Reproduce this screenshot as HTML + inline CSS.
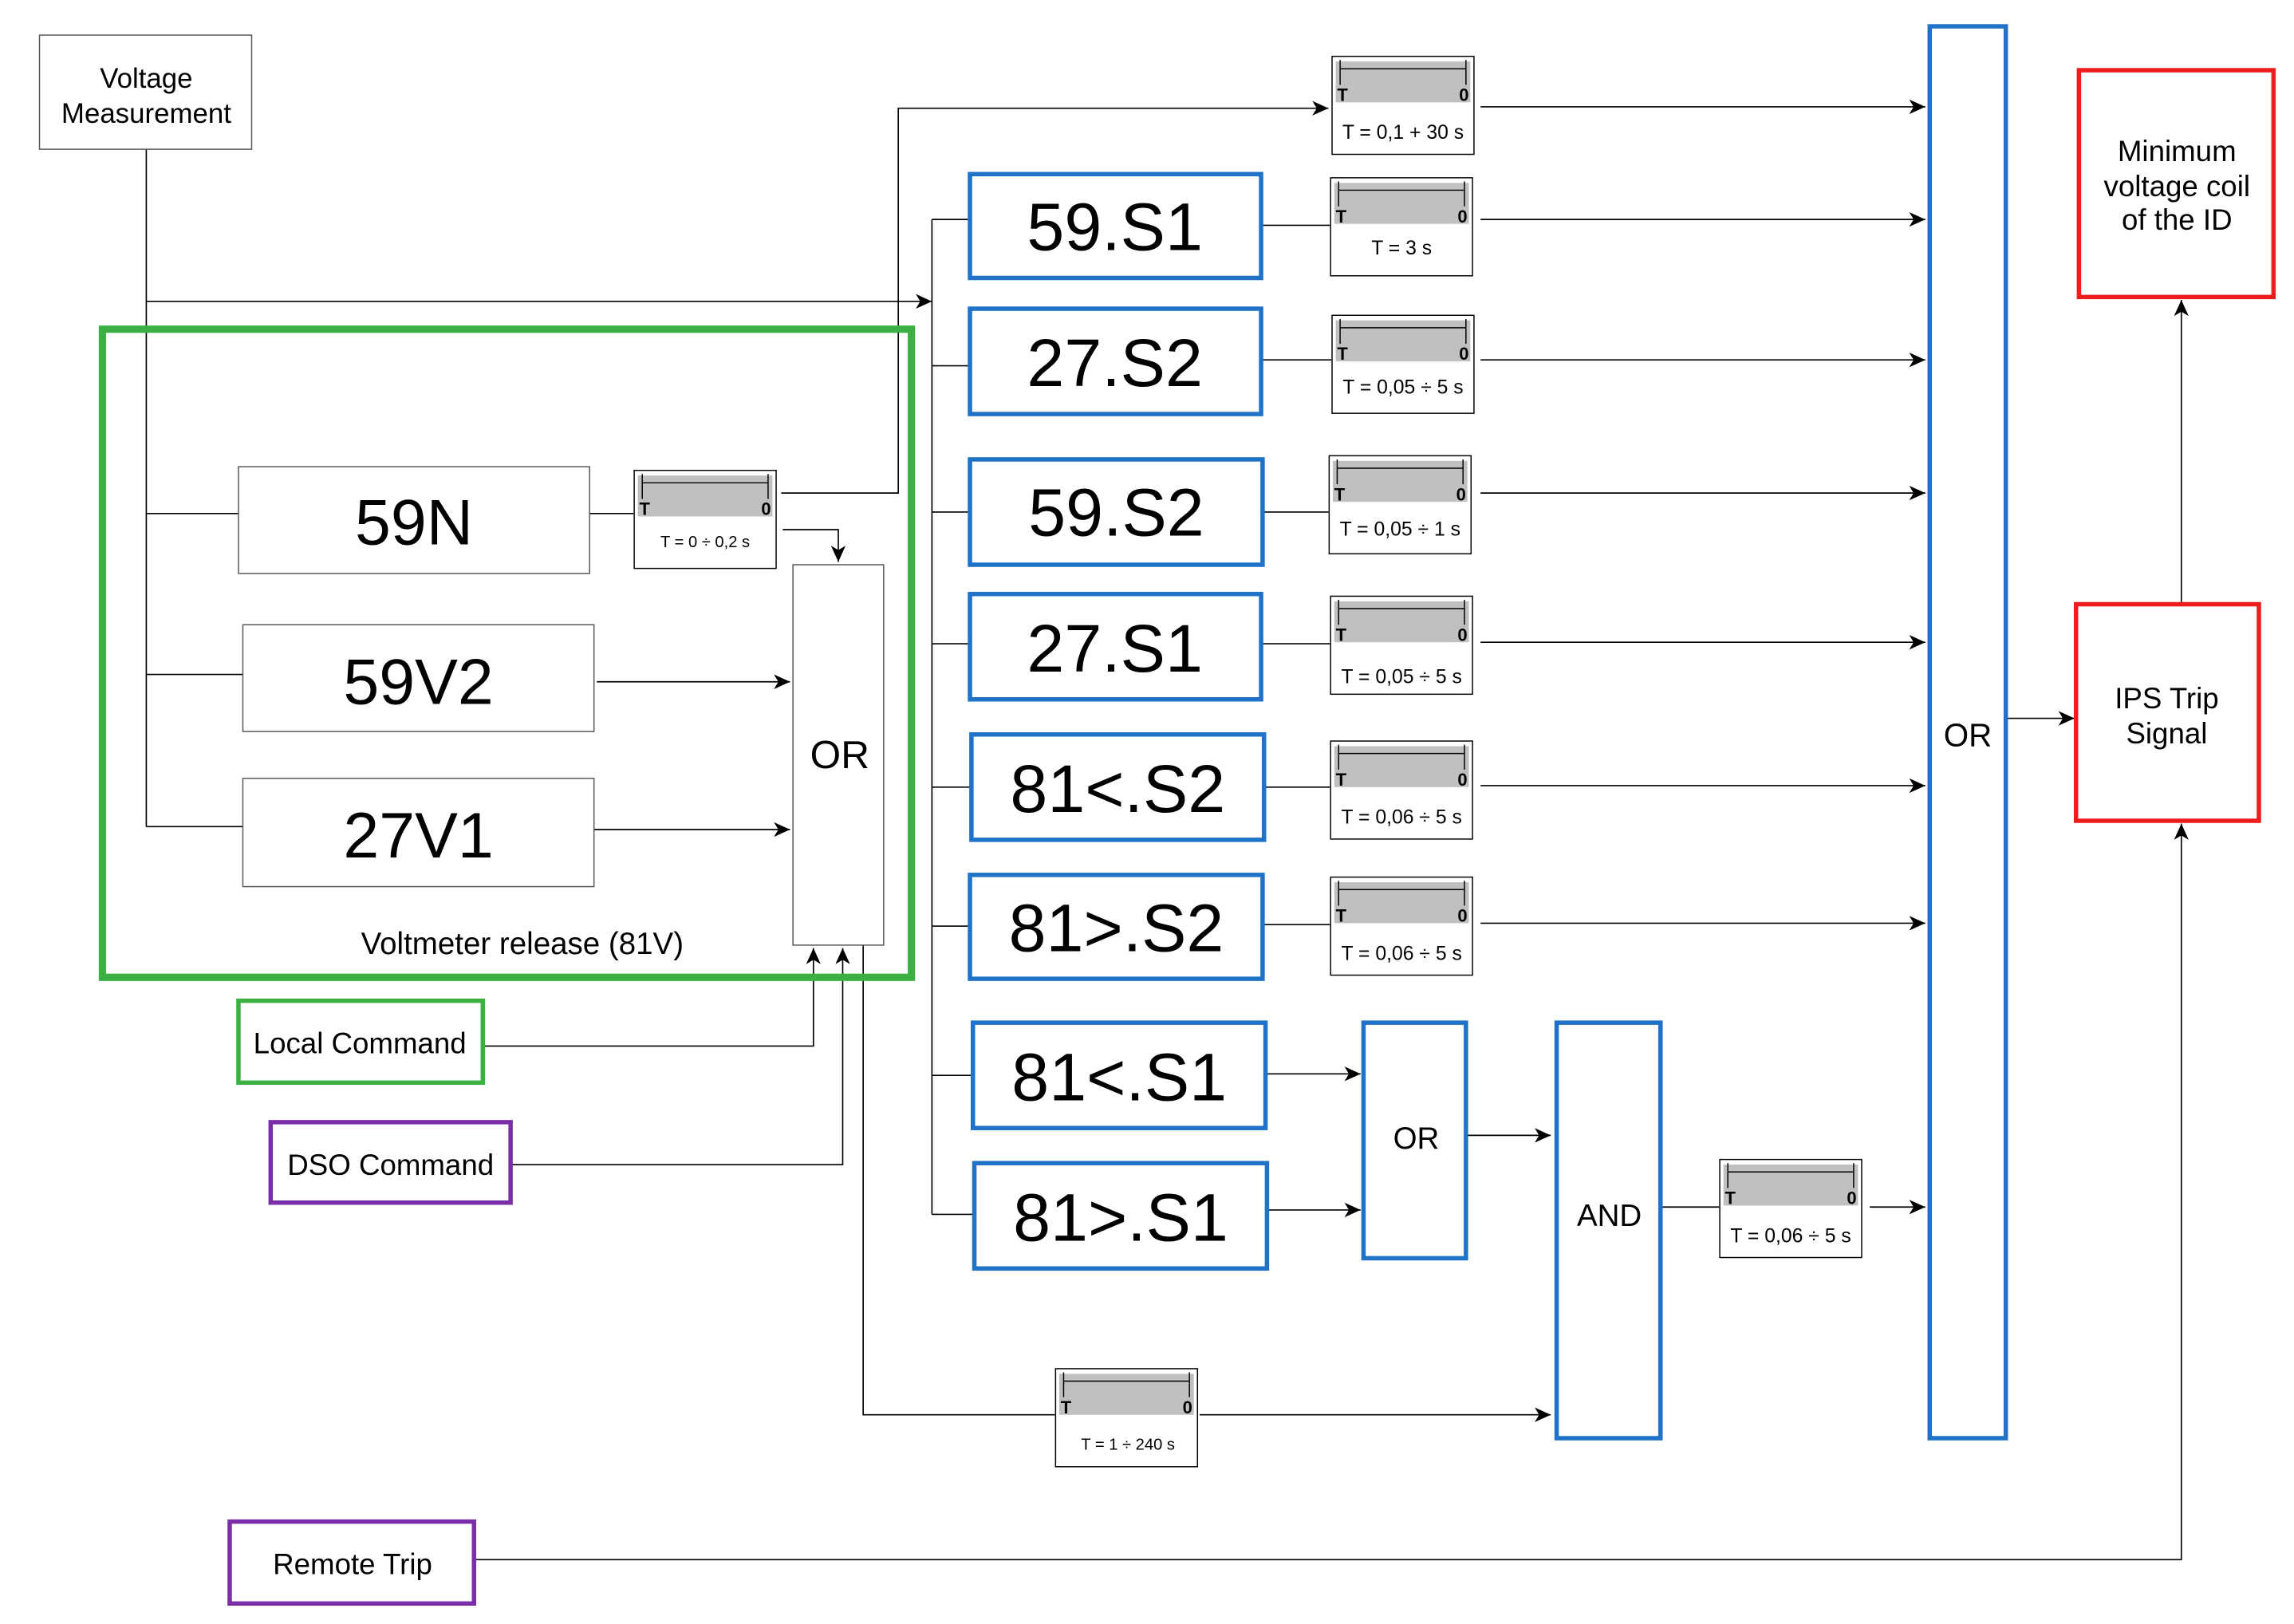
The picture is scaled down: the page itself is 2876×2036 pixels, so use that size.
<!DOCTYPE html>
<html><head><meta charset="utf-8"><style>
html,body{margin:0;padding:0;background:#fff;}
svg{display:block;}
text{font-family:"Liberation Sans",Arial,sans-serif;fill:#000;}
</style></head><body>
<svg width="2876" height="2036" viewBox="0 0 1568 1110" preserveAspectRatio="none" xmlns="http://www.w3.org/2000/svg">
<defs>
<marker id="a" markerWidth="12" markerHeight="10" refX="11" refY="5" orient="auto" markerUnits="userSpaceOnUse">
<path d="M0,0 L11,5 L0,10 L3,5 Z" fill="#000"/>
</marker>
<g id="tm">
<rect x="0.5" y="0.5" width="97" height="67" fill="#fff" stroke="#000" stroke-width="0.8"/>
<rect x="3" y="4" width="92" height="28" fill="#c0c0c0"/>
<line x1="6" y1="9" x2="92" y2="9" stroke="#000" stroke-width="0.8"/>
<line x1="6" y1="3" x2="6" y2="20" stroke="#000" stroke-width="0.8"/>
<line x1="92" y1="3" x2="92" y2="20" stroke="#000" stroke-width="0.8"/>
<text x="4" y="31" font-size="12" font-weight="bold">T</text>
<text x="94" y="31" font-size="12" font-weight="bold" text-anchor="end">0</text>
</g>
</defs>
<g fill="none" stroke="#000" stroke-width="0.9">
<!-- voltage measurement feed -->
<polyline points="100,102 100,565"/>
<line x1="100" y1="351" x2="163" y2="351"/>
<line x1="100" y1="461" x2="166" y2="461"/>
<line x1="100" y1="565" x2="166" y2="565"/>
<line x1="100" y1="206" x2="637" y2="206" marker-end="url(#a)"/>
<line x1="403" y1="351" x2="433" y2="351"/>
<polyline points="534,337 614,337 614,74 908,74" marker-end="url(#a)"/>
<polyline points="535,362 573,362 573,384" marker-end="url(#a)"/>
<line x1="408" y1="466" x2="540" y2="466" marker-end="url(#a)"/>
<line x1="406" y1="567" x2="540" y2="567" marker-end="url(#a)"/>
<polyline points="330,715 556,715 556,648" marker-end="url(#a)"/>
<polyline points="349,796 576,796 576,648" marker-end="url(#a)"/>
<polyline points="590,646 590,967 721,967"/>
<line x1="820" y1="967" x2="1060" y2="967" marker-end="url(#a)"/>
<!-- bus -->
<line x1="637" y1="150" x2="637" y2="830"/>
<line x1="637" y1="150" x2="663" y2="150"/>
<line x1="637" y1="250" x2="663" y2="250"/>
<line x1="637" y1="350" x2="663" y2="350"/>
<line x1="637" y1="440" x2="663" y2="440"/>
<line x1="637" y1="538" x2="664" y2="538"/>
<line x1="637" y1="633" x2="663" y2="633"/>
<line x1="637" y1="735" x2="665" y2="735"/>
<line x1="637" y1="830" x2="666" y2="830"/>
<!-- box to timers -->
<line x1="862" y1="154" x2="909" y2="154"/>
<line x1="862" y1="246" x2="910" y2="246"/>
<line x1="863" y1="350" x2="908" y2="350"/>
<line x1="862" y1="440" x2="909" y2="440"/>
<line x1="864" y1="538" x2="909" y2="538"/>
<line x1="863" y1="632" x2="909" y2="632"/>
<!-- timer outputs -->
<line x1="1012" y1="73" x2="1316" y2="73" marker-end="url(#a)"/>
<line x1="1012" y1="150" x2="1316" y2="150" marker-end="url(#a)"/>
<line x1="1012" y1="246" x2="1316" y2="246" marker-end="url(#a)"/>
<line x1="1012" y1="337" x2="1316" y2="337" marker-end="url(#a)"/>
<line x1="1012" y1="439" x2="1316" y2="439" marker-end="url(#a)"/>
<line x1="1012" y1="537" x2="1316" y2="537" marker-end="url(#a)"/>
<line x1="1012" y1="631" x2="1316" y2="631" marker-end="url(#a)"/>
<line x1="865" y1="734" x2="930" y2="734" marker-end="url(#a)"/>
<line x1="866" y1="827" x2="930" y2="827" marker-end="url(#a)"/>
<line x1="1002" y1="776" x2="1060" y2="776" marker-end="url(#a)"/>
<line x1="1135" y1="825" x2="1175" y2="825"/>
<line x1="1278" y1="825" x2="1316" y2="825" marker-end="url(#a)"/>
<line x1="1371" y1="491" x2="1418" y2="491" marker-end="url(#a)"/>
<line x1="1491" y1="413" x2="1491" y2="205" marker-end="url(#a)"/>
<polyline points="324,1066 1491,1066 1491,563" marker-end="url(#a)"/>
</g>
<!-- boxes -->
<g stroke-width="0.8" stroke="#555" fill="#fff">
<rect x="27" y="24" width="145" height="78"/>
<rect x="163" y="319" width="240" height="73"/>
<rect x="166" y="427" width="240" height="73"/>
<rect x="166" y="532" width="240" height="74"/>
<rect x="542" y="386" width="62" height="260"/>
</g>
<rect x="70" y="225" width="553" height="443" fill="none" stroke="#3cb043" stroke-width="5"/>
<rect x="163" y="684" width="167" height="56" fill="none" stroke="#3cb043" stroke-width="3"/>
<rect x="185" y="767" width="164" height="55" fill="none" stroke="#7a2fa8" stroke-width="3"/>
<rect x="157" y="1040" width="167" height="56" fill="none" stroke="#7a2fa8" stroke-width="3"/>
<rect x="1421" y="48" width="133" height="155" fill="none" stroke="#ee1c1c" stroke-width="3"/>
<rect x="1419" y="413" width="125" height="148" fill="none" stroke="#ee1c1c" stroke-width="3"/>
<g fill="none" stroke="#1f72c8" stroke-width="3">
<rect x="663" y="119" width="199" height="71"/>
<rect x="663" y="211" width="199" height="72"/>
<rect x="663" y="314" width="200" height="72"/>
<rect x="663" y="406" width="199" height="72"/>
<rect x="664" y="502" width="200" height="72"/>
<rect x="663" y="598" width="200" height="71"/>
<rect x="665" y="699" width="200" height="72"/>
<rect x="666" y="795" width="200" height="72"/>
<rect x="932" y="699" width="70" height="161"/>
<rect x="1064" y="699" width="71" height="284"/>
<rect x="1319" y="18" width="52" height="965"/>
</g>
<!-- timers -->
<use href="#tm" x="433" y="321"/>
<use href="#tm" x="910" y="38"/>
<use href="#tm" x="909" y="121"/>
<use href="#tm" x="910" y="215"/>
<use href="#tm" x="908" y="311"/>
<use href="#tm" x="909" y="407"/>
<use href="#tm" x="909" y="506"/>
<use href="#tm" x="909" y="599"/>
<use href="#tm" x="1175" y="792"/>
<use href="#tm" x="721" y="935"/>
<g font-size="13.5" text-anchor="middle">
<text x="482" y="374" font-size="11">T = 0 ÷ 0,2 s</text>
<text x="959" y="95">T = 0,1 + 30 s</text>
<text x="958" y="174">T = 3 s</text>
<text x="959" y="269">T = 0,05 ÷ 5 s</text>
<text x="957" y="366">T = 0,05 ÷ 1 s</text>
<text x="958" y="467">T = 0,05 ÷ 5 s</text>
<text x="958" y="563">T = 0,06 ÷ 5 s</text>
<text x="958" y="656">T = 0,06 ÷ 5 s</text>
<text x="1224" y="849">T = 0,06 ÷ 5 s</text>
<text x="771" y="991" font-size="11">T = 1 ÷ 240 s</text>
</g>
<!-- labels -->
<g text-anchor="middle">
<text x="100" y="60" font-size="19">Voltage</text>
<text x="100" y="84" font-size="19">Measurement</text>
<text x="283" y="372" font-size="44">59N</text>
<text x="286" y="481" font-size="44">59V2</text>
<text x="286" y="586" font-size="44">27V1</text>
<text x="574" y="525" font-size="27">OR</text>
<text x="357" y="652" font-size="21">Voltmeter release (81V)</text>
<text x="246" y="720" font-size="20">Local Command</text>
<text x="267" y="803" font-size="20">DSO Command</text>
<text x="241" y="1076" font-size="20">Remote Trip</text>
<text x="762" y="171" font-size="46">59.S1</text>
<text x="762" y="264" font-size="46">27.S2</text>
<text x="763" y="366" font-size="46">59.S2</text>
<text x="762" y="459" font-size="46">27.S1</text>
<text x="764" y="555" font-size="46">81&lt;.S2</text>
<text x="763" y="650" font-size="46">81&gt;.S2</text>
<text x="765" y="752" font-size="46">81&lt;.S1</text>
<text x="766" y="848" font-size="46">81&gt;.S1</text>
<text x="968" y="785" font-size="21">OR</text>
<text x="1100" y="838" font-size="21">AND</text>
<text x="1345" y="510" font-size="22">OR</text>
<text x="1481" y="484" font-size="20">IPS Trip</text>
<text x="1481" y="508" font-size="20">Signal</text>
<text x="1488" y="110" font-size="20">Minimum</text>
<text x="1488" y="134" font-size="20">voltage coil</text>
<text x="1488" y="157" font-size="20">of the ID</text>
</g>
</svg>
</body></html>
